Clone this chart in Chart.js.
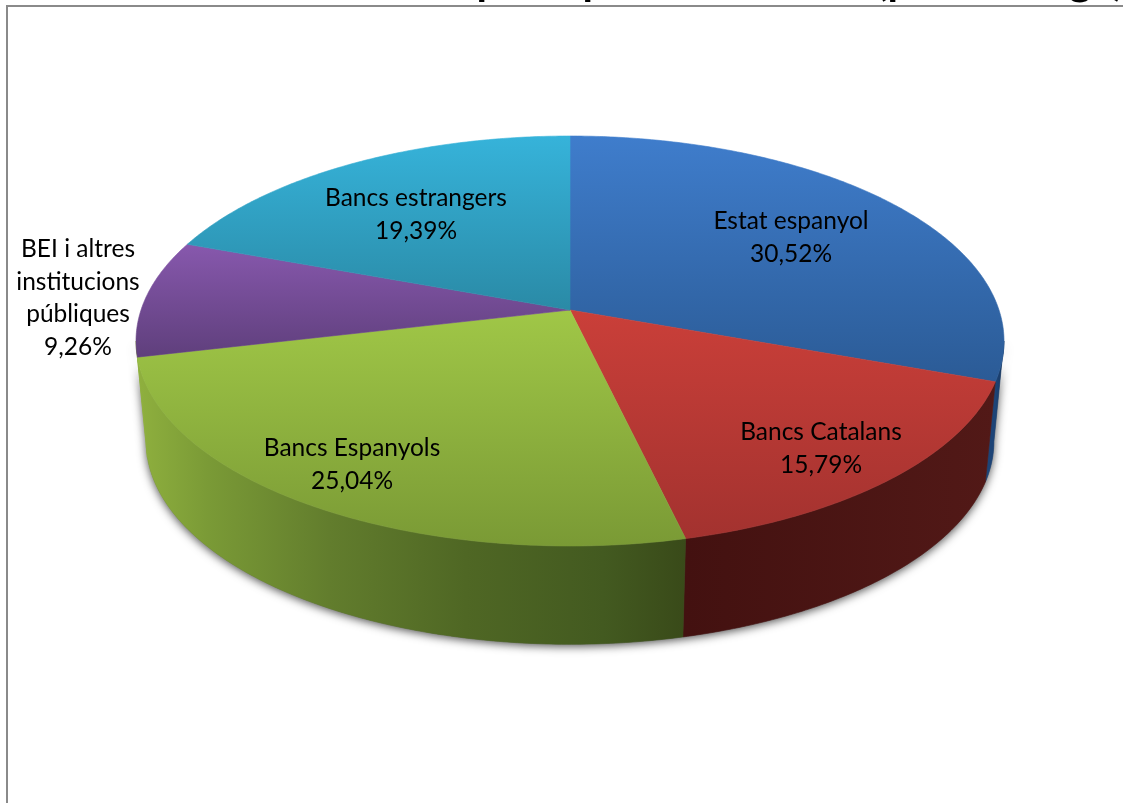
<!DOCTYPE html>
<html>
<head>
<meta charset="utf-8">
<title>Creditors</title>
<script src="https://cdn.jsdelivr.net/npm/chart.js@4/dist/chart.umd.min.js"></script>
<style>
  html, body { margin: 0; padding: 0; background: #fff; overflow: hidden; }
  canvas { display: block; }
</style>
</head>
<body>
<canvas id="pie" width="1123" height="803"></canvas>
<script>
const categories = ["Estat espanyol", "Bancs Catalans", "Bancs Espanyols", "BEI i altres institucions públiques", "Bancs estrangers"];
const shares = [30.52, 15.79, 25.04, 9.26, 19.39];
const labelLines = [["Estat espanyol"], ["Bancs Catalans"], ["Bancs Espanyols"], ["BEI i altres", "institucions", "públiques"], ["Bancs estrangers"]];
const titleHead = "Distribució dels principals creditors";
const titleTail = "(percentatge)";

// top face goes light to dark downwards, the rim goes left to right
const topShades = [["#3f7dcc", "#2b5b96"], ["#ca3f39", "#a3322f"], ["#a0c747", "#7a9a35"], ["#8758ad", "#5f3f7c"], ["#36b3da", "#2a8aa6"]];
const rimShades = [["#1d4477", "#173760"], ["#431110", "#521917"], ["#8fb03e", "#3a4a19"], ["#8fb03e", "#8fb03e"], ["#2a8aa6", "#2a8aa6"]];
const greenRimStops = [[0, "#8fb03e"], [0.13, "#7a9a36"], [0.35, "#627d2d"], [0.6, "#4f6724"], [0.85, "#435a20"], [1, "#394a19"]];

const labelSpots = [[791, 235], [821, 446], [352, 462], [78, 263], [416, 212]];

// perspective of the disc: k is the tilt, the levels are the top face and the underside
const tilt = 0.1512;
const midX = 570;
const topLevel = { a: 429, b: 200.3, y: 310 };
const lowLevel = { a: 419, b: 198, y: 411 };
const frontFrom = Math.acos(-tilt);
const frontTo = 2 * Math.PI - frontFrom;

function project(theta, level) {
  const u = Math.sin(theta);
  const v = -Math.cos(theta);
  const w = 1 - tilt * v;
  return [midX + level.a * u / w, level.y + level.b * v / w];
}

function traceRim(ctx, from, to, level) {
  const steps = Math.max(2, Math.ceil(Math.abs(to - from) / 0.01));
  for (let i = 0; i <= steps; i++) {
    const p = project(from + (to - from) * i / steps, level);
    ctx.lineTo(p[0], p[1]);
  }
}

function topPath(ctx, from, to) {
  ctx.beginPath();
  ctx.moveTo(midX, topLevel.y);
  traceRim(ctx, from, to, topLevel);
  ctx.closePath();
}

function wallPath(ctx, from, to) {
  ctx.beginPath();
  traceRim(ctx, from, to, topLevel);
  traceRim(ctx, to, from, lowLevel);
  ctx.closePath();
}

function formatShare(v) {
  return v.toFixed(2).replace(".", ",") + "%";
}

const tiltedPie = {
  id: "tiltedPie",
  beforeDatasetsDraw(chart) {
    const ctx = chart.ctx;
    const arcs = chart.getDatasetMeta(0).data;

    // title runs off the top of the page, only its descenders stay in view
    ctx.save();
    ctx.beginPath();
    ctx.rect(0, 0, chart.width, 5);
    ctx.clip();
    ctx.font = "bold 42.5px Lato";
    ctx.fillStyle = "#000";
    ctx.textAlign = "left";
    ctx.textBaseline = "alphabetic";
    ctx.fillText(titleHead, 172, -5);
    ctx.fillText(titleTail, 876, -5);
    ctx.restore();

    // frame, open on the right and at the bottom
    ctx.strokeStyle = "#8a8a8a";
    ctx.lineWidth = 2;
    ctx.beginPath();
    ctx.moveTo(7, chart.height);
    ctx.lineTo(7, 6);
    ctx.lineTo(chart.width, 6);
    ctx.stroke();

    // soft shadow under the disc
    ctx.save();
    ctx.shadowColor = "rgba(0,0,0,0.7)";
    ctx.shadowBlur = 10;
    ctx.shadowOffsetY = 2;
    ctx.fillStyle = "#666";
    wallPath(ctx, frontFrom, frontTo);
    ctx.fill();
    ctx.restore();

    arcs.forEach((arc, i) => {
      const from = Math.max(arc.startAngle + Math.PI / 2, frontFrom);
      const to = Math.min(arc.endAngle + Math.PI / 2, frontTo);
      if (to <= from) return;
      const a = project(from, topLevel)[0];
      const b = project(to, topLevel)[0];
      const g = ctx.createLinearGradient(Math.min(a, b), 0, Math.max(a, b), 0);
      if (i === 2) {
        greenRimStops.forEach(s => g.addColorStop(s[0], s[1]));
      } else {
        g.addColorStop(0, rimShades[i][0]);
        g.addColorStop(1, rimShades[i][1]);
      }
      ctx.fillStyle = g;
      ctx.strokeStyle = g;
      ctx.lineWidth = 0.6;
      wallPath(ctx, from, to);
      ctx.fill();
      ctx.stroke();
    });

    arcs.forEach((arc, i) => {
      const from = arc.startAngle + Math.PI / 2;
      const to = arc.endAngle + Math.PI / 2;
      let minY = topLevel.y;
      let maxY = topLevel.y;
      for (let t = from; t <= to; t += 0.01) {
        const y = project(t, topLevel)[1];
        minY = Math.min(minY, y);
        maxY = Math.max(maxY, y);
      }
      const g = ctx.createLinearGradient(0, minY, 0, maxY);
      g.addColorStop(0, topShades[i][0]);
      g.addColorStop(1, topShades[i][1]);
      ctx.fillStyle = g;
      ctx.strokeStyle = g;
      ctx.lineWidth = 0.6;
      topPath(ctx, from, to);
      ctx.fill();
      ctx.stroke();
    });

    // slice captions, name first and value on the last line
    ctx.font = "24.5px Lato";
    ctx.fillStyle = "#000";
    ctx.textAlign = "center";
    ctx.textBaseline = "middle";
    labelLines.forEach((lines, i) => {
      const rows = lines.concat(formatShare(shares[i]));
      rows.forEach((row, r) => {
        ctx.fillText(row, labelSpots[i][0], labelSpots[i][1] - 14 + r * 32.6);
      });
    });

    return false;
  }
};

new Chart(document.getElementById("pie"), {
  type: "pie",
  data: {
    labels: categories,
    datasets: [{ data: shares, backgroundColor: topShades.map(s => s[0]), borderWidth: 0 }]
  },
  options: {
    responsive: false,
    animation: false,
    events: [],
    plugins: { legend: { display: false }, tooltip: { enabled: false } }
  },
  plugins: [tiltedPie]
});
</script>
</body>
</html>
